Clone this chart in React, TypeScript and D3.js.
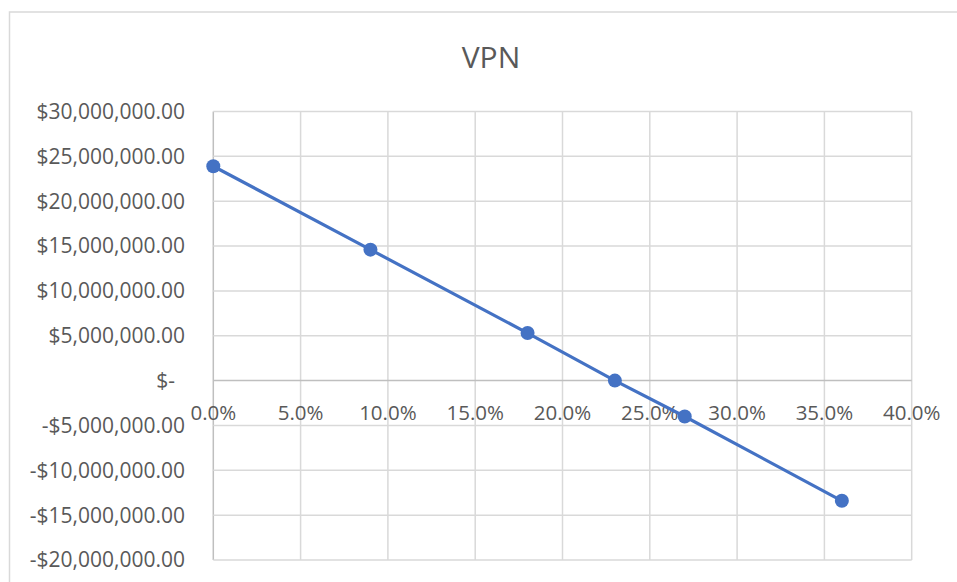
import React from "react";
import * as d3 from "d3";

const rates = [0, 0.09, 0.18, 0.23, 0.27, 0.36];
const vpn = [23900000, 14600000, 5300000, 0, -4000000, -13400000];
const xTicks = [0, 0.05, 0.1, 0.15, 0.2, 0.25, 0.3, 0.35, 0.4];
const yTicks = [30000000, 25000000, 20000000, 15000000, 10000000, 5000000, 0, -5000000, -10000000, -15000000, -20000000];
const title = "VPN";

const W = 957;
const H = 582;
const left = 213.3;
const right = 911.7;
const top = 111.5;
const bottom = 560;

const fmtY = (v: number) => {
  if (v === 0) return "$-";
  const s = d3.format(",.2f")(Math.abs(v));
  return (v < 0 ? "-$" : "$") + s;
};
const fmtX = d3.format(".1%");

export default function App() {
  const x = d3.scaleLinear().domain([0, 0.4]).range([left, right]);
  const y = d3.scaleLinear().domain([-20000000, 30000000]).range([bottom, top]);
  const pts = rates.map((r, i) => [r, vpn[i]] as [number, number]);
  const line = d3.line<[number, number]>().x((d) => x(d[0])).y((d) => y(d[1]))(pts) || "";
  const font = "'Open Sans', sans-serif";
  return (
    <svg width={W} height={H} style={{ position: "absolute", left: 0, top: 0, background: "#fff" }}>
      <rect x={9.5} y={12} width={960} height={600} fill="#fff" stroke="#d9d9d9" strokeWidth={1.5} />
      <text x={491} y={68} textAnchor="middle" fontFamily={font} fontSize={30} fill="#595959">
        {title}
      </text>
      {xTicks.map((t) => (
        <line key={"gx" + t} x1={x(t)} x2={x(t)} y1={top} y2={bottom} stroke={t === 0 ? "#bfbfbf" : "#d9d9d9"} strokeWidth={1.5} />
      ))}
      {yTicks.map((t) => (
        <line key={"gy" + t} x1={left} x2={right} y1={y(t)} y2={y(t)} stroke={t === 0 ? "#bfbfbf" : "#d9d9d9"} strokeWidth={1.5} />
      ))}
      {yTicks.map((t) => (
        <text
          key={"ly" + t}
          x={t === 0 ? 175 : 185}
          y={y(t)}
          dy="0.35em"
          textAnchor="end"
          fontFamily={font}
          fontSize={21}
          fill="#595959"
        >
          {fmtY(t)}
        </text>
      ))}
      {xTicks.map((t) => (
        <text
          key={"lx" + t}
          x={x(t)}
          y={y(0) + 32}
          dy="0.35em"
          textAnchor="middle"
          fontFamily={font}
          fontSize={20.5}
          fill="#595959"
        >
          {fmtX(t)}
        </text>
      ))}
      <path d={line} fill="none" stroke="#4472C4" strokeWidth={3.2} />
      {pts.map((p, i) => (
        <circle key={"p" + i} cx={x(p[0])} cy={y(p[1])} r={7} fill="#4472C4" />
      ))}
    </svg>
  );
}
